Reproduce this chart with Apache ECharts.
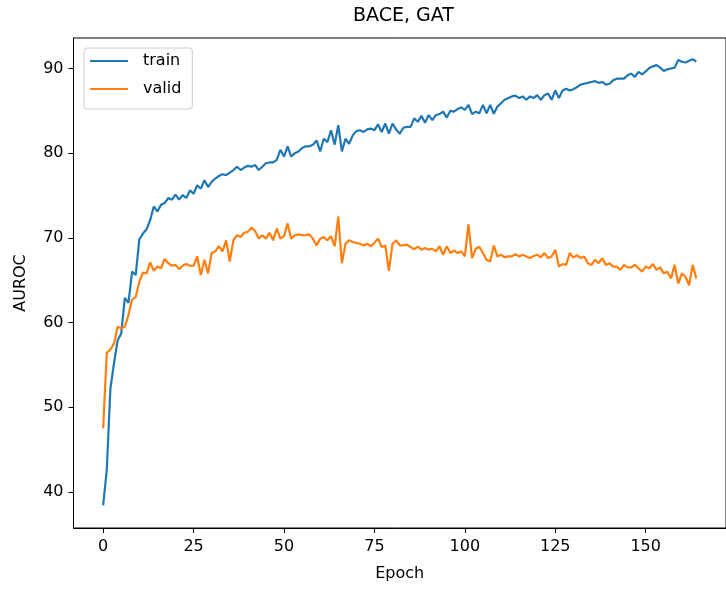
<!DOCTYPE html>
<html>
<head>
<meta charset="utf-8">
<script src="https://cdn.jsdelivr.net/npm/echarts@6/dist/echarts.min.js"></script>
<style>
  html, body { margin: 0; padding: 0; background: #fff; }
  #main { width: 726px; height: 591px; }
</style>
</head>
<body>
<div id="main"></div>
<script>
// 曲线数据
var trainAuroc = [
  38.4, 42.6, 52.2, 55.2, 57.9, 58.7, 62.9, 62.3, 66.0, 65.6, 69.8, 70.5, 71.0, 72.1, 73.7, 73.1, 73.9, 74.1, 74.7, 74.5, 75.1,
  74.5, 75.05, 74.7, 75.6, 75.2, 76.2, 75.8, 76.8, 76.0, 76.6, 77.0, 77.3, 77.5, 77.4, 77.7, 78.0, 78.4, 78.0, 78.3, 78.5, 78.4, 78.6,
  78.0, 78.4, 78.8, 78.9, 78.9, 79.2, 80.4, 79.6, 80.8, 79.6, 80.0, 80.2, 80.6, 80.8, 80.8, 81.0, 81.5, 80.2, 81.7, 81.3, 82.7,
  81.0,
  83.3, 80.2, 81.7, 81.1, 82.1, 82.6, 82.7, 82.5, 82.8, 82.9, 82.7, 83.4, 82.5, 83.5, 82.3, 83.5, 82.8, 82.3, 83.0, 83.1, 83.1,
  84.1,
  83.7, 84.4, 83.6, 84.5, 83.9, 84.5, 84.6, 84.9, 84.2, 85.0, 84.9, 85.2, 85.4, 85.1, 85.7, 84.6, 84.9, 84.7, 85.7, 84.7, 85.7,
  84.65,
  85.5, 85.9, 86.3, 86.5, 86.7, 86.8, 86.5, 86.7, 86.3, 86.7, 86.5, 86.85, 86.3, 86.85, 87.05, 86.3, 87.4, 86.5, 87.4, 87.6, 87.4,
  87.55,
  87.8, 88.1, 88.2, 88.3, 88.4, 88.5, 88.3, 88.4, 88.1, 88.2, 88.6, 88.8, 88.8, 88.8, 89.2, 89.4, 89.0, 89.6, 89.3,
  89.65,
  90.05, 90.25, 90.4, 90.1, 89.7, 89.9, 90.0, 90.1, 91.0, 90.8, 90.7, 90.9, 91.1, 90.8
];
var validAuroc = [
  47.5, 56.4, 56.8, 57.5, 59.5, 59.3, 59.5, 60.9, 62.7, 63.0, 64.8, 65.9, 65.8, 67.1, 66.1, 66.6, 66.4, 67.5, 67.0, 66.7, 66.8,
  66.3, 66.7, 66.9, 66.7, 66.7, 67.8, 65.6, 67.4, 65.8, 68.2, 68.4, 69.0, 68.4, 69.7, 67.2, 69.7, 70.3, 70.1, 70.6, 70.7, 71.2, 70.8,
  69.9, 70.3, 69.9, 70.6, 69.7, 71.1, 69.9, 70.2, 71.7, 69.9, 70.3, 70.4, 70.3, 70.3, 70.4, 69.9, 69.1, 69.9, 70.1, 69.7, 70.2,
  69.0,
  72.5, 67.0, 69.3, 69.7, 69.5, 69.4, 69.3, 69.1, 69.3, 69.0, 69.4, 69.9, 68.9, 69.1, 66.1, 69.3, 69.7, 69.1, 69.1, 69.2, 68.9,
  68.65,
  68.95, 68.6, 68.8, 68.6, 68.7, 68.4, 69.0, 68.0, 69.0, 68.2, 68.5, 68.2, 68.4, 67.8, 71.6, 67.6, 68.7, 68.95, 68.2, 67.4, 67.2,
  69.1,
  67.8, 68.0, 67.7, 67.8, 67.8, 68.05, 67.8, 68.0, 67.8, 67.6, 67.85, 68.0, 67.7, 68.2, 67.6, 67.8, 68.6, 66.6, 66.9, 66.8, 68.2,
  67.65,
  67.95, 67.6, 67.8, 67.0, 66.8, 67.4, 67.0, 67.6, 66.8, 67.0, 66.6, 66.6, 66.2, 66.8, 66.5, 66.5, 66.8, 66.4, 66.0,
  66.6,
  66.4, 66.9, 66.2, 66.5, 65.8, 66.0, 65.2, 66.8, 64.6, 65.8, 65.4, 64.4, 66.8, 65.2
];
var xTicks = [0, 25, 50, 75, 100, 125, 150];
var yTicks = [40, 50, 60, 70, 80, 90];

var font = "DejaVu Sans";

function toPairs(arr){
    var out = [];
    for(var i = 0; i < arr.length; i++){
        out.push([i, arr[i]]);
    }
    return out;
}

var myChart = echarts.init(document.getElementById('main'));
var option = {
    animation: false,
    backgroundColor: '#fff',
    title: {
        text: 'BACE, GAT',
        left: 353,
        top: 7,
        padding: 0,
        textStyle: { fontFamily: font, fontSize: 19, fontWeight: 'normal', color: '#000' }
    },
    legend: {
        orient: 'vertical',
        left: 84,
        top: 48,
        padding: [5, 11, 12, 6],
        itemGap: 12,
        itemWidth: 38,
        itemHeight: 2,
        icon: 'rect',
        backgroundColor: 'rgba(255,255,255,0.8)',
        borderColor: '#cccccc',
        borderWidth: 1,
        borderRadius: 3,
        textStyle: { fontFamily: font, fontSize: 16, color: '#000', padding: [0, 0, 0, 10] },
        data: ['train', 'valid']
    },
    grid: {
        left: 73.5,
        right: -6.4,
        top: 38,
        bottom: 63,
        show: true,
        borderColor: '#000',
        borderWidth: 1
    },
    xAxis: {
        type: 'value',
        min: -8.2,
        max: 172.2,
        name: 'Epoch',
        nameLocation: 'middle',
        nameGap: 38,
        nameTextStyle: { fontFamily: font, fontSize: 16, color: '#000' },
        axisLine: { show: true, onZero: false, lineStyle: { color: '#000', width: 1 } },
        axisTick: { show: true, length: 5, lineStyle: { color: '#000' }, customValues: xTicks },
        axisLabel: { margin: 11, fontFamily: font, fontSize: 16, color: '#000', customValues: xTicks },
        splitLine: { show: false }
    },
    yAxis: {
        type: 'value',
        min: 35.72,
        max: 93.6,
        name: 'AUROC',
        nameLocation: 'middle',
        nameGap: 45,
        nameTextStyle: { fontFamily: font, fontSize: 16, color: '#000' },
        axisLine: { show: true, onZero: false, lineStyle: { color: '#000', width: 1 } },
        axisTick: { show: true, length: 5, lineStyle: { color: '#000' }, customValues: yTicks },
        axisLabel: { margin: 10, fontFamily: font, fontSize: 16, color: '#000', customValues: yTicks },
        splitLine: { show: false }
    },
    series: [
        {
            name: 'train',
            type: 'line',
            data: toPairs(trainAuroc),
            showSymbol: false,
            color: '#1f77b4',
            lineStyle: { width: 2.2, color: '#1f77b4' }
        },
        {
            name: 'valid',
            type: 'line',
            data: toPairs(validAuroc),
            showSymbol: false,
            color: '#ff7f0e',
            lineStyle: { width: 2.2, color: '#ff7f0e' }
        }
    ]
};
myChart.setOption(option);
</script>
</body>
</html>
